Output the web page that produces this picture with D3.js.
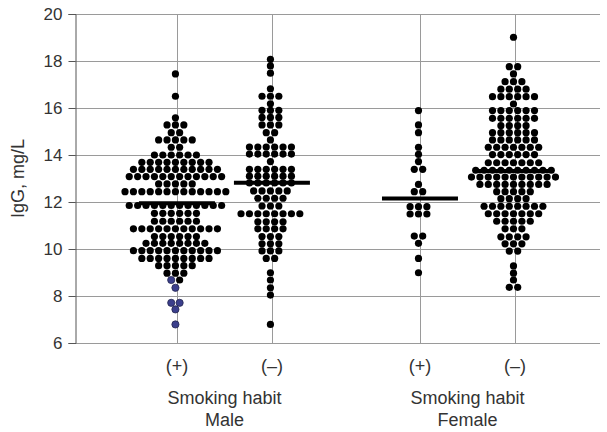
<!DOCTYPE html>
<html>
<head>
<meta charset="utf-8">
<script src="https://cdn.jsdelivr.net/npm/d3@7"></script>
<style>
    body { margin: 0; background: #fff; }
    svg { display: block; font-family: 'Liberation Sans', Arial, sans-serif; }
</style>
</head>
<body>
<div id="chart"></div>
<script>
// Tick values on the IgG axis
const yTicks = [6, 8, 10, 12, 14, 16, 18, 20];

const sexes = ['Male', 'Female'];
const smoking = ['(+)', '(–)'];

// Each row of the dot plot: [IgG value, number of dots]
const maleSmokerRows = [
    [17.45, 1], [16.5, 1], [15.58, 1], [15.28, 3], [14.95, 2], [14.64, 5], [14.33, 2],
    [14.0, 6], [13.69, 9], [13.39, 11], [13.08, 12], [12.77, 5], [12.44, 13], [11.85, 12],
    [11.52, 6], [11.18, 6], [10.86, 11], [10.53, 6], [10.24, 8], [9.93, 11], [9.6, 9],
    [9.29, 5], [8.97, 3], [8.68, 1]
];
// the blue dots at the bottom of the male smoker column
const maleSmokerBlueRows = [
    [8.68, 1], [8.35, 1], [7.71, 2], [7.43, 1], [6.79, 1]
];
const maleNonSmokerRows = [
    [18.07, 1], [17.79, 1], [17.48, 1], [16.82, 1], [16.5, 3], [16.18, 1], [15.9, 3],
    [15.6, 3], [15.28, 3], [14.95, 2], [14.64, 1], [14.34, 6], [14.04, 6], [13.72, 1],
    [13.39, 6], [13.1, 6], [12.81, 6], [12.47, 5], [12.16, 4], [11.83, 3], [11.5, 8],
    [11.16, 4], [10.86, 4], [10.53, 3], [10.22, 3], [9.92, 3], [9.6, 2], [8.99, 1],
    [8.68, 1], [8.35, 1], [8.04, 1], [6.79, 1]
];
const femaleSmokerRows = [
    [15.89, 1], [15.28, 1], [14.95, 1], [14.33, 1], [14.03, 1], [13.72, 1], [13.39, 2],
    [12.75, 1], [12.44, 2], [11.8, 3], [11.49, 3], [10.55, 2], [10.24, 1], [9.6, 1], [8.99, 1]
];
const femaleNonSmokerRows = [
    [19.01, 1], [17.76, 2], [17.45, 1], [17.12, 3], [16.8, 4], [16.48, 6], [16.17, 1],
    [15.89, 6], [15.56, 6], [15.25, 4], [14.95, 6], [14.64, 6], [14.33, 7], [14.02, 6],
    [13.67, 7], [13.35, 10], [13.06, 11], [12.75, 9], [12.44, 5], [12.14, 4], [11.82, 8],
    [11.5, 7], [11.18, 5], [10.86, 3], [10.52, 4], [10.22, 3], [9.91, 2], [9.28, 1],
    [8.97, 1], [8.68, 1], [8.37, 2]
];

// Group means (the horizontal bars)
const groupMeans = [11.95, 12.82, 12.15, 13.32];

const groups = [
    { sex: 'Male', smoke: '(+)', rows: maleSmokerRows, blue: maleSmokerBlueRows, mean: groupMeans[0] },
    { sex: 'Male', smoke: '(–)', rows: maleNonSmokerRows, blue: [], mean: groupMeans[1] },
    { sex: 'Female', smoke: '(+)', rows: femaleSmokerRows, blue: [], mean: groupMeans[2] },
    { sex: 'Female', smoke: '(–)', rows: femaleNonSmokerRows, blue: [], mean: groupMeans[3] }
];

const width = 607;
const height = 432;
const margin = { top: 14, right: 7, bottom: 89, left: 75 };

const dotRadius = 3.6;
const dotStep = 8.4;
const meanHalfWidth = 38;

const svg = d3.select('#chart')
    .append('svg')
    .attr('width', width)
    .attr('height', height);

const y = d3.scaleLinear()
    .domain([6, 20])
    .range([height - margin.bottom, margin.top]);

const xSex = d3.scalePoint()
    .domain(sexes)
    .range([margin.left, width - margin.right])
    .padding(0.58)
    .align(0.53);

const xSmoke = d3.scalePoint()
    .domain(smoking)
    .range([-47.5, 47.5]);

const groupX = g => xSex(g.sex) + xSmoke(g.smoke);

// Horizontal gridlines
svg.append('g')
    .selectAll('line')
    .data(yTicks)
    .enter()
    .append('line')
    .attr('x1', margin.left)
    .attr('x2', width - margin.right)
    .attr('y1', d => Math.round(y(d)) + 0.5)
    .attr('y2', d => Math.round(y(d)) + 0.5)
    .attr('stroke', '#9a9a9a')
    .attr('stroke-width', 1);

// Vertical lines through each group
svg.append('g')
    .selectAll('line')
    .data(groups)
    .enter()
    .append('line')
    .attr('x1', d => Math.round(groupX(d)) + 0.5)
    .attr('x2', d => Math.round(groupX(d)) + 0.5)
    .attr('y1', y(20))
    .attr('y2', y(6))
    .attr('stroke', '#9a9a9a')
    .attr('stroke-width', 1);

// Y axis
const yAxis = svg.append('g')
    .attr('transform', `translate(${margin.left + 0.5},0)`)
    .call(d3.axisLeft(y).tickValues(yTicks).tickSize(7).tickPadding(6));

yAxis.select('.domain').attr('stroke', '#555');
yAxis.selectAll('.tick line').attr('stroke', '#555');
yAxis.selectAll('.tick text')
    .attr('font-size', '17px')
    .attr('fill', '#333')
    .attr('font-family', "'Liberation Sans', Arial, sans-serif");

svg.append('text')
    .attr('transform', `translate(24,${y(13)}) rotate(-90)`)
    .attr('text-anchor', 'middle')
    .attr('font-size', '18px')
    .attr('fill', '#333')
    .text('IgG, mg/L');

// Lay out dots: each row centred on its group, blue dots first
groups.forEach(g => {
    const byValue = new Map();
    g.blue.forEach(([v, n]) => {
        const row = byValue.get(v) || [];
        for (let i = 0; i < n; i++) row.push('blue');
        byValue.set(v, row);
    });
    g.rows.forEach(([v, n]) => {
        const row = byValue.get(v) || [];
        for (let i = 0; i < n; i++) row.push('black');
        byValue.set(v, row);
    });
    const dots = [];
    byValue.forEach((colors, v) => {
        colors.forEach((c, i) => {
            dots.push({ value: v, offset: (i - (colors.length - 1) / 2) * dotStep, color: c });
        });
    });
    g.dots = dots;
});

const cx = groupX;

svg.append('g')
    .selectAll('g')
    .data(groups)
    .enter()
    .append('g')
    .attr('transform', d => `translate(${cx(d) - 1.5},0)`)
    .selectAll('circle')
    .data(d => d.dots)
    .enter()
    .append('circle')
    .attr('cx', d => d.offset)
    .attr('cy', d => y(d.value))
    .attr('r', dotRadius)
    .attr('fill', d => d.color === 'blue' ? '#3b3f8c' : '#000')
    .attr('stroke', d => d.color === 'blue' ? '#23264f' : 'none')
    .attr('stroke-width', 0.8);

// Mean bars
svg.append('g')
    .selectAll('line')
    .data(groups)
    .enter()
    .append('line')
    .attr('x1', d => groupX(d) - meanHalfWidth)
    .attr('x2', d => groupX(d) + meanHalfWidth)
    .attr('y1', d => y(d.mean))
    .attr('y2', d => y(d.mean))
    .attr('stroke', '#000')
    .attr('stroke-width', 4);

// Category labels
svg.append('g')
    .selectAll('text')
    .data(groups)
    .enter()
    .append('text')
    .attr('x', d => groupX(d))
    .attr('y', 372)
    .attr('text-anchor', 'middle')
    .attr('font-size', '18px')
    .attr('fill', '#333')
    .text(d => d.smoke);

const sexLabels = svg.append('g')
    .selectAll('text')
    .data(sexes)
    .enter()
    .append('text')
    .attr('x', d => xSex(d))
    .attr('text-anchor', 'middle')
    .attr('font-size', '18px')
    .attr('fill', '#333');

sexLabels.append('tspan')
    .attr('x', d => xSex(d))
    .attr('y', 404)
    .text('Smoking habit');

sexLabels.append('tspan')
    .attr('x', d => xSex(d))
    .attr('y', 426)
    .text(d => d);
</script>
</body>
</html>
